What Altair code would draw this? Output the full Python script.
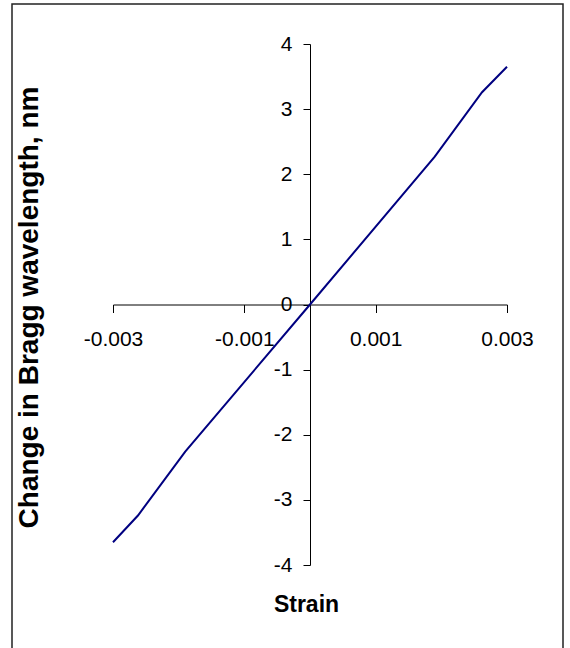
import altair as alt
import pandas as pd

strain = [-0.003, -0.00262, -0.0019, 0.0, 0.0019, 0.00262, 0.003]
dlambda = [-3.65, -3.24, -2.26, 0.0, 2.27, 3.26, 3.65]
x_ticks = [-0.003, -0.001, 0.001, 0.003]
y_ticks = [-4, -3, -2, -1, 0, 1, 2, 3, 4]

df = pd.DataFrame({"strain": strain, "dl": dlambda})

W, H = 394, 521
PL, PT = 113, 44
FONT = "Liberation Sans"

line = alt.Chart(df).mark_line(color="#000080", strokeWidth=2, clip=False).encode(
    x=alt.X("strain:Q",
            scale=alt.Scale(domain=[-0.003, 0.003], nice=False, zero=False),
            axis=alt.Axis(values=x_ticks, labelExpr="'' + datum.value",
                          offset=-H / 2, grid=False, tickSize=8,
                          domainColor="#000000", tickColor="#000000",
                          labelFont=FONT, labelFontSize=21, labelColor="#000000",
                          labelPadding=16, labelFlush=False, labelOverlap=False,
                          labelBound=False,
                          title="Strain", titleFont=FONT, titleFontSize=23,
                          titleFontWeight="bold", titleColor="#000000",
                          titleX=W / 2 - 4, titleY=300, titleBaseline="middle")),
    y=alt.Y("dl:Q",
            scale=alt.Scale(domain=[-4, 4], nice=False, zero=False),
            axis=alt.Axis(values=y_ticks, labelExpr="'' + datum.value",
                          offset=-W / 2, grid=False, tickSize=7,
                          domainColor="#000000", tickColor="#000000",
                          labelFont=FONT, labelFontSize=21, labelColor="#000000",
                          labelPadding=11, labelFlush=False, labelOverlap=False,
                          labelBound=False,
                          title="Change in Bragg wavelength, nm", titleFont=FONT,
                          titleFontSize=28, titleFontWeight="bold", titleColor="#000000",
                          titleX=29 - (PL + W / 2), titleY=263, titleAngle=-90,
                          titleBaseline="middle")),
)

border = alt.Chart(pd.DataFrame({"a": [0]})).mark_rect(
    fill=None, stroke="#222222", strokeWidth=1.5, clip=False
).encode(
    x=alt.value(12 - PL), x2=alt.value(563 - PL),
    y=alt.value(4 - PT), y2=alt.value(652 - PT),
)

chart = alt.layer(border, line).properties(
    width=W, height=H,
    autosize=alt.AutoSizeParams(type="none"),
    padding={"left": PL, "top": PT, "right": 570 - PL - W, "bottom": 648 - PT - H},
    background="white",
).configure_view(stroke=None)

chart.save("out.html", embed_options={"renderer": "svg", "actions": False})
